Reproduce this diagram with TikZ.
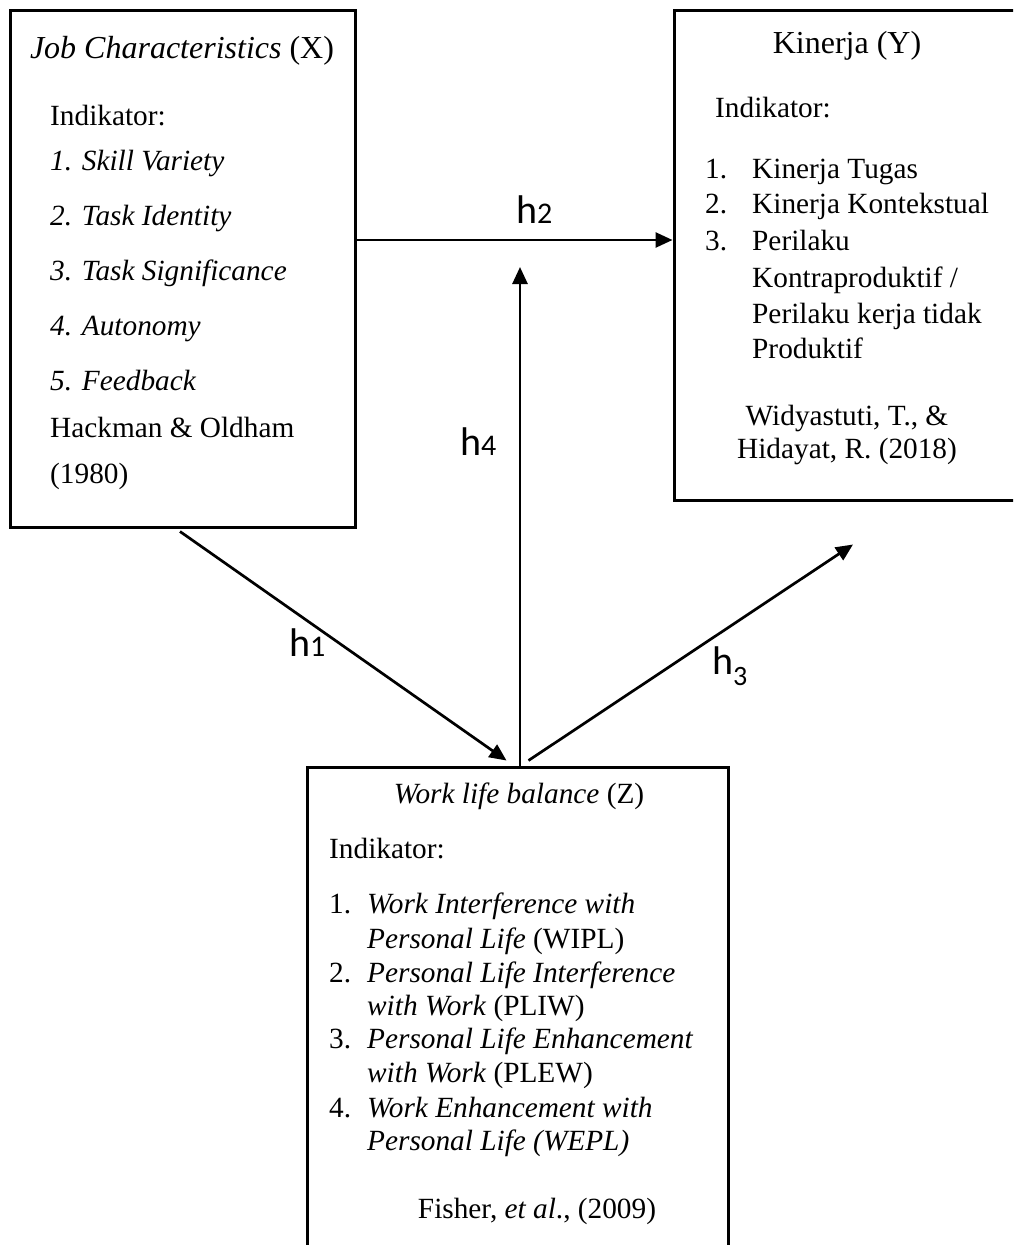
\documentclass[tikz,border=0pt]{standalone}
\usepackage{fontspec}
\setmainfont{Liberation Serif}
\newfontfamily\calib{Carlito}
\usetikzlibrary{arrows.meta}
\begin{document}
\begin{tikzpicture}[x=1pt,y=-1pt,
  box/.style={draw, line width=3pt, inner sep=0pt},
  tx/.style={anchor=base west, inner sep=0pt, font=\fontsize{29.3}{35}\selectfont},
  tc/.style={anchor=base, inner sep=0pt, font=\fontsize{29.3}{35}\selectfont},
  ttl/.style={anchor=base, inner sep=0pt, font=\fontsize{32}{38}\selectfont},
  hl/.style={anchor=base west, inner sep=0pt, font=\calib\fontsize{40}{40}\selectfont},
  arr/.style={line width=2.7pt, -{Triangle[length=17pt,width=15pt]}}]
\path[use as bounding box] (0,0) rectangle (1013,1245);
\clip (0,0) rectangle (1013,1245);

% boxes
\node[box, minimum width=345pt, minimum height=517pt] (X) at (182.5,268.5) {};
\node[box, minimum width=358pt, minimum height=490pt] (Y) at (853,255) {};
\node[box, minimum width=421pt, minimum height=500pt] (Z) at (517.5,1017) {};

% left box text
\node[ttl] (xt) at (182,58) {\textit{Job Characteristics} (X)};
\node[tx] (xi) at (50,125) {Indikator:};
\node[tx] (x1) at (50,170) {\textit{1. Skill Variety}};
\node[tx] (x2) at (50,225) {\textit{2. Task Identity}};
\node[tx] (x3) at (50,280) {\textit{3. Task Significance}};
\node[tx] (x4) at (50,335) {\textit{4. Autonomy}};
\node[tx] (x5) at (50,390) {\textit{5. Feedback}};
\node[tx] (xr1) at (50,437) {Hackman \& Oldham};
\node[tx] (xr2) at (50,483) {(1980)};

% right box text
\node[ttl] (yt) at (847,53) {Kinerja (Y)};
\node[tx] (yi) at (715,117) {Indikator:};
\node[tx] (yn1) at (705,178) {1.};
\node[tx] (y1) at (752,178) {Kinerja Tugas};
\node[tx] (yn2) at (705,213) {2.};
\node[tx] (y2) at (752,213) {Kinerja Kontekstual};
\node[tx] (yn3) at (705,250) {3.};
\node[tx] (y3a) at (752,250) {Perilaku};
\node[tx] (y3b) at (752,287) {Kontraproduktif /};
\node[tx] (y3c) at (752,323) {Perilaku kerja tidak};
\node[tx] (y3d) at (752,358) {Produktif};
\node[tc] (yr1) at (847,425) {Widyastuti, T., \&};
\node[tc] (yr2) at (847,458) {Hidayat, R. (2018)};

% bottom box text
\node[tc] (zt) at (519,803) {\textit{Work life balance} (Z)};
\node[tx] (zi) at (329,858) {Indikator:};
\node[tx] (zn1) at (329,913) {1.};
\node[tx] (z1a) at (367,913) {\textit{Work Interference with}};
\node[tx] (z1b) at (367,948) {\textit{Personal Life} (WIPL)};
\node[tx] (zn2) at (329,982) {2.};
\node[tx] (z2a) at (367,982) {\textit{Personal Life Interference}};
\node[tx] (z2b) at (367,1015) {\textit{with Work} (PLIW)};
\node[tx] (zn3) at (329,1048) {3.};
\node[tx] (z3a) at (367,1048) {\textit{Personal Life Enhancement}};
\node[tx] (z3b) at (367,1082) {\textit{with Work} (PLEW)};
\node[tx] (zn4) at (329,1117) {4.};
\node[tx] (z4a) at (367,1117) {\textit{Work Enhancement with}};
\node[tx] (z4b) at (367,1150) {\textit{Personal Life (WEPL)}};
\node[tc] (zr) at (537,1218) {Fisher, \textit{et al}., (2009)};

% connectors
\coordinate (h4tip) at (520,267);
\draw[arr] (X.east |- 0,240) -- (Y.west |- 0,240);
\draw[arr] (Z.north -| h4tip) -- (h4tip);
\draw[arr] ([xshift=-2.5pt,yshift=-3pt]X.south) -- ([xshift=-11pt,yshift=5pt]Z.north);
\draw[arr] ([xshift=11pt,yshift=5pt]Z.north) -- ([yshift=-43pt]Y.south);

% labels
\node[hl] (lh2) at (516,223) {h{\fontsize{30}{30}\selectfont 2}};
\node[hl] (lh4) at (460,455) {h{\fontsize{30}{30}\selectfont 4}};
\node[hl] (lh1) at (289,656) {h{\fontsize{30}{30}\selectfont 1}};
\node[hl] (lh3) at (712,674) {h\raisebox{-11pt}{\fontsize{28}{28}\selectfont 3}};
\end{tikzpicture}
\end{document}
